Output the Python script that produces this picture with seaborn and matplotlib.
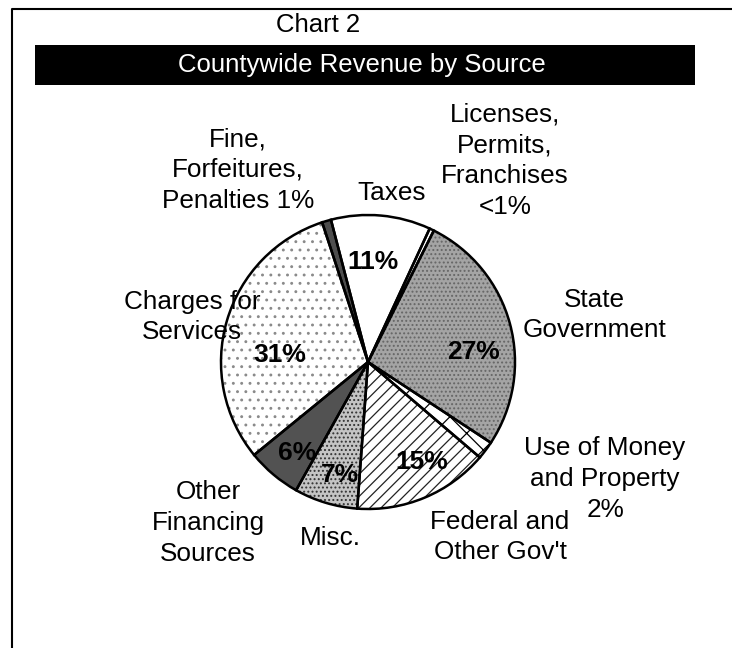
import matplotlib
matplotlib.use("Agg")
import matplotlib.pyplot as plt
import seaborn as sns
from matplotlib.patches import Rectangle

# Revenue shares, clockwise starting at Taxes
sources = ["Taxes", "Licenses, Permits, Franchises", "State Government",
           "Use of Money and Property", "Federal and Other Gov't", "Misc.",
           "Other Financing Sources", "Charges for Services",
           "Fine, Forfeitures, Penalties"]
shares = [11, 0.5, 27, 2, 15, 7, 6, 31, 1]

# outside labels and inside percent labels (text only)
outer_labels = ["Taxes", "Licenses,\nPermits,\nFranchises\n<1%", "State\nGovernment",
                "Use of Money\nand Property\n2%", "Federal and\nOther Gov't", "Misc.",
                "Other\nFinancing\nSources", "Charges for\nServices",
                "Fine,\nForfeitures,\nPenalties 1%"]
pct_labels = ["11%", "", "27%", "", "15%", "7%", "6%", "31%", ""]

# fill style of each slice: face colour, hatch, hatch colour
faces = ["white", "white", "#a4a4a4", "white", "white", "#c4c4c4", "#525252", "white", "#4e4e4e"]
hatches = [None, None, "....", "x", "///", "....", None, "..", None]
hatch_cols = ["black", "black", "#666666", "black", "#222222", "#333333", "#525252", "#8a8a8a", "#4e4e4e"]

W, H = 732, 648

sns.set_theme(style="white")
plt.rcParams["font.family"] = ["Liberation Sans", "DejaVu Sans"]
plt.rcParams["hatch.linewidth"] = 0.9

fig = plt.figure(figsize=(W / 100, H / 100), dpi=100)
ax = fig.add_axes([0, 0, 1, 1])
ax.set_xlim(0, W)
ax.set_ylim(0, H)
ax.set_aspect("equal")
ax.axis("off")

center = (368, H - 362)
radius = 147

wedges, _ = ax.pie(shares, center=center, radius=radius, startangle=104.6,
                   counterclock=False, colors=faces,
                   wedgeprops=dict(linewidth=0))
for w, h, c in zip(wedges, hatches, hatch_cols):
    w.set_edgecolor(c)
    if h:
        w.set_hatch(h)

# outlines on top
ax.pie(shares, center=center, radius=radius, startangle=104.6, counterclock=False,
       wedgeprops=dict(fill=False, edgecolor="black", linewidth=1.8))
ax.set_xlim(0, W)
ax.set_ylim(0, H)

# label placement in pixel coords (x, y from top)
outer_pos = [(392, 193), (505, 161), (594, 315), (605, 479), (500, 537),
             (330, 538), (208, 523), (192, 317), (238, 170)]
pct_pos = [(373, 262), None, (473, 352), None, (422, 462), (340, 475),
           (297, 453), (280, 355), None]

for lab, (x, y) in zip(outer_labels, outer_pos):
    ax.text(x, H - y, lab, ha="center", va="center", fontsize=18.8,
            linespacing=1.36, color="black")
for lab, pos in zip(pct_labels, pct_pos):
    if pos:
        ax.text(pos[0], H - pos[1], lab, ha="center", va="center",
                fontsize=19, fontweight="bold", color="black")

# frame and titles
ax.plot([12, 12, W], [0, H - 9, H - 9], color="black", linewidth=1.5)
ax.add_patch(Rectangle((35, H - 85), 660, 40, facecolor="black", edgecolor="none"))
ax.text(318, H - 25, "Chart 2", ha="center", va="center", fontsize=18.5, color="black")
ax.text(362, H - 65, "Countywide Revenue by Source", ha="center", va="center",
        fontsize=18.5, color="white")

fig.savefig("out.png", dpi=100)
